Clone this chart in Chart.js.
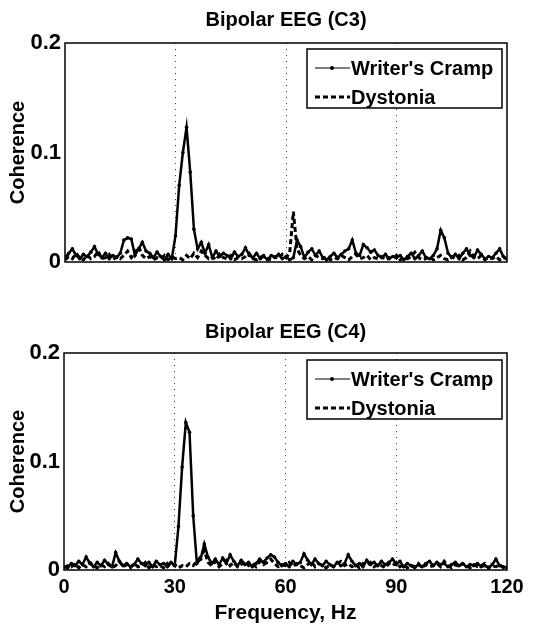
<!DOCTYPE html>
<html>
<head>
<meta charset="utf-8">
<script src="https://cdn.jsdelivr.net/npm/chart.js@4"></script>
<style>
  body { margin: 0; background: #fff; }
  canvas { position: absolute; left: 0; }
  #c3 { top: 0; }
  #c4 { top: 300px; }
</style>
</head>
<body>
<canvas id="c3" width="554" height="300"></canvas>
<canvas id="c4" width="554" height="331"></canvas>
<script>
// frequency bins, Hz
const freqs = [0,1,2,3,4,5,6,7,8,9,10,11,12,13,14,15,16,17,18,19,20,21,22,23,24,25,26,27,28,29,
  30,31,32,33,34,35,36,37,38,39,40,41,42,43,44,45,46,47,48,49,50,51,52,53,54,55,56,57,58,59,
  60,61,62,63,64,65,66,67,68,69,70,71,72,73,74,75,76,77,78,79,80,81,82,83,84,85,86,87,88,89,
  90,91,92,93,94,95,96,97,98,99,100,101,102,103,104,105,106,107,108,109,110,111,112,113,114,115,116,117,118,119,120];

const seriesNames = ["Writer's Cramp", "Dystonia"];
const panelTitles = ['Bipolar EEG (C3)', 'Bipolar EEG (C4)'];
const xTicks = [0, 30, 60, 90, 120];
const yTicks = [0, 0.1, 0.2];

// C3 coherence
const writersC3 = [0.004,0.008,0.012,0.006,0.003,0.007,0.005,0.009,0.014,0.007,0.004,0.008,0.003,0.006,0.004,0.008,0.020,0.022,0.021,0.006,
  0.012,0.018,0.010,0.008,0.004,0.009,0.005,0.002,0.007,0.003,0.024,0.070,0.100,0.123,0.082,0.030,0.012,0.018,0.008,0.016,
  0.004,0.010,0.005,0.008,0.006,0.003,0.009,0.005,0.007,0.013,0.006,0.004,0.008,0.003,0.005,0.002,0.006,0.004,0.007,0.003,
  0.005,0.002,0.004,0.020,0.014,0.004,0.009,0.012,0.006,0.010,0.004,0.002,0.005,0.008,0.004,0.007,0.010,0.012,0.020,0.008,
  0.006,0.016,0.013,0.009,0.011,0.006,0.004,0.007,0.003,0.005,0.004,0.006,0.002,0.005,0.008,0.003,0.006,0.010,0.004,0.003,
  0.006,0.012,0.029,0.022,0.008,0.004,0.007,0.003,0.008,0.012,0.006,0.004,0.011,0.007,0.003,0.005,0.004,0.008,0.012,0.005,0.003];
const dystoniaC3 = [0.002,0.005,0.003,0.008,0.004,0.002,0.006,0.003,0.005,0.010,0.003,0.004,0.007,0.002,0.005,0.003,0.006,0.010,0.004,0.008,
  0.014,0.006,0.003,0.005,0.002,0.004,0.003,0.006,0.002,0.005,0.003,0.004,0.002,0.006,0.003,0.008,0.004,0.010,0.006,0.003,
  0.005,0.002,0.007,0.004,0.003,0.006,0.002,0.004,0.003,0.005,0.008,0.003,0.002,0.004,0.006,0.003,0.002,0.005,0.003,0.007,
  0.004,0.008,0.046,0.012,0.006,0.003,0.005,0.002,0.006,0.004,0.003,0.005,0.002,0.004,0.003,0.006,0.004,0.002,0.005,0.007,
  0.003,0.004,0.006,0.002,0.004,0.003,0.005,0.002,0.004,0.003,0.006,0.002,0.004,0.003,0.005,0.009,0.004,0.002,0.003,0.005,
  0.002,0.004,0.006,0.003,0.002,0.005,0.003,0.006,0.002,0.004,0.010,0.005,0.003,0.006,0.002,0.004,0.003,0.005,0.002,0.004,0.003];

// C4 coherence
const writersC4 = [0.003,0.002,0.006,0.004,0.008,0.005,0.012,0.006,0.003,0.007,0.004,0.009,0.005,0.003,0.016,0.008,0.004,0.006,0.003,0.005,
  0.010,0.006,0.004,0.007,0.003,0.008,0.005,0.006,0.003,0.007,0.004,0.040,0.095,0.136,0.127,0.050,0.006,0.010,0.024,0.012,
  0.006,0.010,0.005,0.011,0.006,0.014,0.008,0.004,0.009,0.005,0.007,0.003,0.006,0.010,0.007,0.011,0.014,0.012,0.007,0.004,
  0.006,0.003,0.008,0.005,0.007,0.015,0.009,0.005,0.010,0.006,0.004,0.008,0.005,0.003,0.007,0.004,0.006,0.014,0.008,0.004,
  0.006,0.003,0.009,0.005,0.007,0.004,0.008,0.005,0.007,0.010,0.005,0.008,0.003,0.006,0.004,0.002,0.005,0.003,0.006,0.008,
  0.004,0.007,0.005,0.006,0.003,0.005,0.007,0.004,0.006,0.003,0.005,0.004,0.006,0.003,0.004,0.002,0.005,0.010,0.004,0.003,0.002];
const dystoniaC4 = [0.002,0.004,0.003,0.006,0.002,0.005,0.003,0.007,0.004,0.002,0.005,0.003,0.006,0.002,0.004,0.008,0.003,0.005,0.002,0.006,
  0.003,0.004,0.007,0.002,0.005,0.003,0.004,0.002,0.006,0.003,0.005,0.002,0.004,0.003,0.006,0.004,0.008,0.012,0.018,0.007,
  0.004,0.008,0.003,0.006,0.009,0.004,0.007,0.003,0.005,0.008,0.004,0.006,0.003,0.008,0.005,0.007,0.010,0.006,0.003,0.005,
  0.004,0.007,0.003,0.006,0.004,0.002,0.005,0.008,0.003,0.006,0.004,0.002,0.005,0.003,0.006,0.008,0.004,0.006,0.003,0.005,
  0.002,0.006,0.004,0.007,0.003,0.005,0.004,0.002,0.006,0.004,0.007,0.003,0.005,0.002,0.004,0.003,0.006,0.002,0.005,0.003,
  0.004,0.006,0.003,0.008,0.004,0.002,0.005,0.003,0.006,0.004,0.002,0.005,0.003,0.004,0.006,0.002,0.004,0.003,0.005,0.002,0.003];

const FONT = '"Liberation Sans", Arial, sans-serif';

// frame, panel title and legend box (MATLAB style)
const matlabBits = {
  id: 'matlabBits',
  afterDraw(chart, args, opts) {
    const { ctx, chartArea: a } = chart;
    ctx.save();
    ctx.strokeStyle = '#000';
    ctx.lineWidth = 1.5;
    ctx.strokeRect(a.left, a.top, a.right - a.left, a.bottom - a.top);

    ctx.fillStyle = '#000';
    ctx.font = 'bold 20px ' + FONT;
    ctx.textAlign = 'center';
    ctx.textBaseline = 'middle';
    ctx.fillText(opts.title, (a.left + a.right) / 2, a.top - opts.titleGap);

    // legend
    const bw = 195, bh = 59;
    const bx = a.right - 5 - bw, by = a.top + opts.legendGap;
    ctx.fillStyle = '#fff';
    ctx.fillRect(bx, by, bw, bh);
    ctx.lineWidth = 1.5;
    ctx.strokeRect(bx, by, bw, bh);
    const rows = [by + 19, by + 48];
    chart.data.datasets.forEach((ds, i) => {
      const y = rows[i];
      ctx.strokeStyle = '#000';
      ctx.lineWidth = i === 0 ? 1 : 3;
      ctx.setLineDash(i === 0 ? [] : [5, 3]);
      ctx.beginPath();
      ctx.moveTo(bx + 8, y);
      ctx.lineTo(bx + 43, y);
      ctx.stroke();
      ctx.setLineDash([]);
      if (i === 0) {
        ctx.beginPath();
        ctx.arc(bx + 25, y, 2, 0, Math.PI * 2);
        ctx.fillStyle = '#000';
        ctx.fill();
      }
      ctx.fillStyle = '#000';
      ctx.font = 'bold 20px ' + FONT;
      ctx.textAlign = 'left';
      ctx.fillText(ds.label, bx + 44, y + 1);
    });
    ctx.restore();
  }
};

function makePanel(id, wc, dy, p) {
  const ctx = document.getElementById(id).getContext('2d');
  return new Chart(ctx, {
    type: 'line',
    data: {
      labels: freqs,
      datasets: [{
        label: seriesNames[0],
        data: wc,
        borderColor: '#000',
        backgroundColor: '#000',
        borderWidth: 2.5,
        pointRadius: 1.8,
        pointBorderWidth: 0,
        tension: 0
      }, {
        label: seriesNames[1],
        data: dy,
        borderColor: '#000',
        borderWidth: 3,
        borderDash: [5, 3],
        pointRadius: 0,
        tension: 0
      }]
    },
    options: {
      responsive: false,
      animation: false,
      layout: { padding: { left: 0, top: p.top, right: 47, bottom: 0 } },
      scales: {
        x: {
          type: 'linear',
          min: 0,
          max: 120,
          afterBuildTicks: s => { s.ticks = xTicks.map(v => ({ value: v })); },
          afterFit: s => { s.height = p.xHeight; },
          ticks: {
            display: p.showX,
            color: '#000',
            padding: 5,
            font: { family: FONT, size: 20, weight: 'bold' }
          },
          grid: {
            drawTicks: false,
            color: c => (c.tick && c.tick.value > 0 && c.tick.value < 120) ? '#444' : 'rgba(0,0,0,0)',
            lineWidth: 1
          },
          border: { display: false, dash: [1, 5] },
          title: {
            display: p.showX,
            text: 'Frequency, Hz',
            color: '#000',
            padding: { top: 0, bottom: 5 },
            font: { family: FONT, size: 21, weight: 'bold' }
          }
        },
        y: {
          min: 0,
          max: 0.2,
          afterBuildTicks: s => { s.ticks = yTicks.map(v => ({ value: v })); },
          afterFit: s => { s.width = p.yWidth; },
          ticks: {
            color: '#000',
            padding: 4,
            font: { family: FONT, size: 22, weight: 'bold' },
            callback: v => String(Math.round(v * 10) / 10)
          },
          grid: { display: false, drawTicks: false },
          border: { display: false },
          title: {
            display: true,
            text: 'Coherence',
            color: '#000',
            padding: { top: 6, bottom: 0 },
            font: { family: FONT, size: 20, weight: 'bold' }
          }
        }
      },
      plugins: {
        legend: { display: false },
        tooltip: { enabled: false },
        matlabBits: { title: p.title, titleGap: p.titleGap, legendGap: p.legendGap }
      }
    },
    plugins: [matlabBits]
  });
}

makePanel('c3', writersC3, dystoniaC3, {
  title: panelTitles[0], top: 43, xHeight: 38, yWidth: 65, showX: false, titleGap: 23, legendGap: 6
});
makePanel('c4', writersC4, dystoniaC4, {
  title: panelTitles[1], top: 53, xHeight: 61, yWidth: 64, showX: true, titleGap: 21, legendGap: 7
});
</script>
</body>
</html>
